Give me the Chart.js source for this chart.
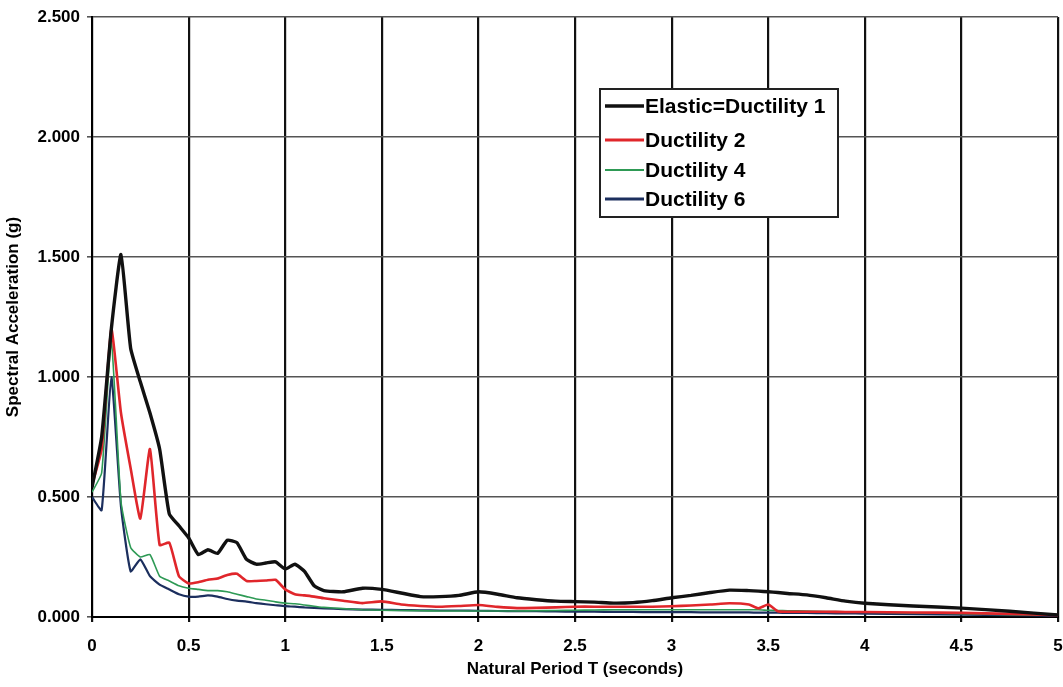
<!DOCTYPE html>
<html>
<head>
<meta charset="utf-8">
<script src="https://cdn.jsdelivr.net/npm/chart.js@4/dist/chart.umd.min.js"></script>
<style>
  html, body { margin: 0; padding: 0; background: #fff; }
  #wrap { width: 1063px; height: 687px; }
</style>
</head>
<body>
<div id="wrap"><canvas id="chart" width="1063" height="687"></canvas></div>
<script>
// natural period T (seconds)
const periods = [0, 0.05, 0.1, 0.15, 0.2, 0.25, 0.3, 0.35, 0.4, 0.45, 0.5, 0.55, 0.6, 0.65, 0.7, 0.75, 0.8, 0.85, 0.9, 0.95,
  1.0, 1.05, 1.1, 1.15, 1.2, 1.3, 1.4, 1.5, 1.6, 1.7, 1.8, 1.9, 2.0, 2.1, 2.2, 2.3, 2.4, 2.5, 2.6, 2.7, 2.8, 2.9,
  3.0, 3.1, 3.2, 3.3, 3.4, 3.45, 3.5, 3.55, 3.6, 3.7, 3.8, 3.9, 4.0, 4.25, 4.5, 4.75, 5.0];

// spectral acceleration (g)
const elastic = [0.54, 0.75, 1.20, 1.51, 1.12, 0.98, 0.85, 0.70, 0.43, 0.38, 0.33, 0.26, 0.28, 0.265, 0.32, 0.31, 0.24, 0.22, 0.225, 0.23,
  0.20, 0.22, 0.19, 0.13, 0.11, 0.105, 0.12, 0.115, 0.10, 0.085, 0.085, 0.09, 0.105, 0.095, 0.08, 0.072, 0.066, 0.064, 0.062, 0.058, 0.06, 0.068,
  0.08, 0.09, 0.102, 0.112, 0.11, 0.108, 0.105, 0.102, 0.098, 0.092, 0.08, 0.066, 0.057, 0.046, 0.037, 0.024, 0.008];
const ductility2 = [0.55, 0.70, 1.20, 0.85, 0.62, 0.41, 0.70, 0.30, 0.31, 0.17, 0.14, 0.145, 0.155, 0.16, 0.175, 0.18, 0.15, 0.15, 0.152, 0.155,
  0.115, 0.095, 0.09, 0.085, 0.078, 0.068, 0.058, 0.065, 0.052, 0.046, 0.043, 0.046, 0.05, 0.042, 0.037, 0.038, 0.04, 0.043, 0.043, 0.043, 0.043, 0.043,
  0.045, 0.048, 0.052, 0.057, 0.052, 0.036, 0.052, 0.024, 0.022, 0.022, 0.022, 0.021, 0.021, 0.019, 0.017, 0.013, 0.008];
const ductility4 = [0.52, 0.60, 1.15, 0.48, 0.29, 0.25, 0.26, 0.17, 0.15, 0.13, 0.12, 0.115, 0.11, 0.11, 0.105, 0.095, 0.085, 0.075, 0.07, 0.063,
  0.058, 0.055, 0.05, 0.045, 0.04, 0.035, 0.03, 0.028, 0.027, 0.026, 0.025, 0.025, 0.025, 0.025, 0.025, 0.026, 0.027, 0.028, 0.029, 0.03, 0.03, 0.03,
  0.03, 0.03, 0.03, 0.03, 0.03, 0.03, 0.028, 0.027, 0.026, 0.025, 0.023, 0.022, 0.02, 0.017, 0.014, 0.01, 0.007];
const ductility6 = [0.50, 0.445, 1.00, 0.46, 0.19, 0.24, 0.17, 0.135, 0.115, 0.095, 0.085, 0.085, 0.09, 0.085, 0.075, 0.068, 0.064, 0.058, 0.053, 0.049,
  0.045, 0.043, 0.04, 0.038, 0.036, 0.033, 0.031, 0.03, 0.029, 0.028, 0.027, 0.027, 0.026, 0.025, 0.024, 0.024, 0.023, 0.022, 0.022, 0.021, 0.021, 0.02,
  0.02, 0.02, 0.019, 0.019, 0.019, 0.018, 0.018, 0.018, 0.017, 0.017, 0.016, 0.015, 0.014, 0.012, 0.01, 0.008, 0.005];

const seriesNames = ['Elastic=Ductility 1', 'Ductility 2', 'Ductility 4', 'Ductility 6'];
const xTicks = [0, 0.5, 1, 1.5, 2, 2.5, 3, 3.5, 4, 4.5, 5];
const yTicks = [0, 0.5, 1.0, 1.5, 2.0, 2.5];

function toPoints(values) {
  return periods.map((t, i) => ({ x: t, y: values[i] }));
}

const FONT = "'Liberation Sans', Arial, sans-serif";

// legend box drawn inside the plot area
const boxLegend = {
  id: 'boxLegend',
  afterDraw(chart) {
    const ctx = chart.ctx;
    const left = 600, top = 89, w = 238, h = 128;
    ctx.save();
    ctx.fillStyle = '#fff';
    ctx.fillRect(left, top, w, h);
    ctx.strokeStyle = '#222';
    ctx.lineWidth = 2;
    ctx.strokeRect(left, top, w, h);
    const rows = [106, 140, 170, 199];
    chart.data.datasets.forEach((ds, i) => {
      ctx.strokeStyle = ds.borderColor;
      ctx.lineWidth = ds.legendWidth;
      ctx.beginPath();
      ctx.moveTo(left + 5, rows[i]);
      ctx.lineTo(left + 44, rows[i]);
      ctx.stroke();
      ctx.fillStyle = '#000';
      ctx.font = 'bold 21px ' + FONT;
      ctx.textBaseline = 'middle';
      ctx.fillText(ds.label, left + 45, rows[i] + 1);
    });
    ctx.restore();
  }
};

new Chart(document.getElementById('chart'), {
  type: 'line',
  data: {
    datasets: [
      { label: seriesNames[0], data: toPoints(elastic), borderColor: '#111111', borderWidth: 3.4, legendWidth: 3.5 },
      { label: seriesNames[1], data: toPoints(ductility2), borderColor: '#e0262b', borderWidth: 2.6, legendWidth: 3 },
      { label: seriesNames[2], data: toPoints(ductility4), borderColor: '#2e9a55', borderWidth: 1.6, legendWidth: 2 },
      { label: seriesNames[3], data: toPoints(ductility6), borderColor: '#1c2f5e', borderWidth: 2.2, legendWidth: 3 }
    ]
  },
  options: {
    responsive: false,
    animation: false,
    layout: { padding: { top: 17, right: 5, left: 0, bottom: 0 } },
    elements: { point: { radius: 0 }, line: { tension: 0.15, fill: false } },
    plugins: { legend: { display: false }, tooltip: { enabled: false } },
    scales: {
      x: {
        type: 'linear', min: 0, max: 5,
        afterBuildTicks: s => { s.ticks = xTicks.map(v => ({ value: v })); },
        afterFit: s => { s.height = 70; s.paddingLeft = 0; s.paddingRight = 0; },
        ticks: { color: '#000', font: { family: FONT, size: 17, weight: 'bold' }, padding: 14, maxRotation: 0,
          callback: v => String(v) },
        grid: { color: '#111', lineWidth: 2.2, tickLength: 5, drawTicks: true },
        border: { color: '#000', width: 2 },
        title: { display: true, text: 'Natural Period T (seconds)', color: '#000',
          font: { family: FONT, size: 17, weight: 'bold' }, padding: { top: 4, bottom: 7 } }
      },
      y: {
        min: 0, max: 2.5,
        afterBuildTicks: s => { s.ticks = yTicks.map(v => ({ value: v })); },
        afterFit: s => { s.width = 92; s.paddingTop = 0; s.paddingBottom = 0; },
        ticks: { color: '#000', font: { family: FONT, size: 17, weight: 'bold' }, padding: 7,
          callback: v => v.toFixed(3) },
        grid: { color: '#555', lineWidth: 1.6, tickLength: 5 },
        border: { color: '#000', width: 2 },
        title: { display: true, text: 'Spectral Acceleration (g)', color: '#000',
          font: { family: FONT, size: 17, weight: 'bold' }, padding: { top: 3, bottom: 3 } }
      }
    }
  },
  plugins: [boxLegend]
});
</script>
</body>
</html>
